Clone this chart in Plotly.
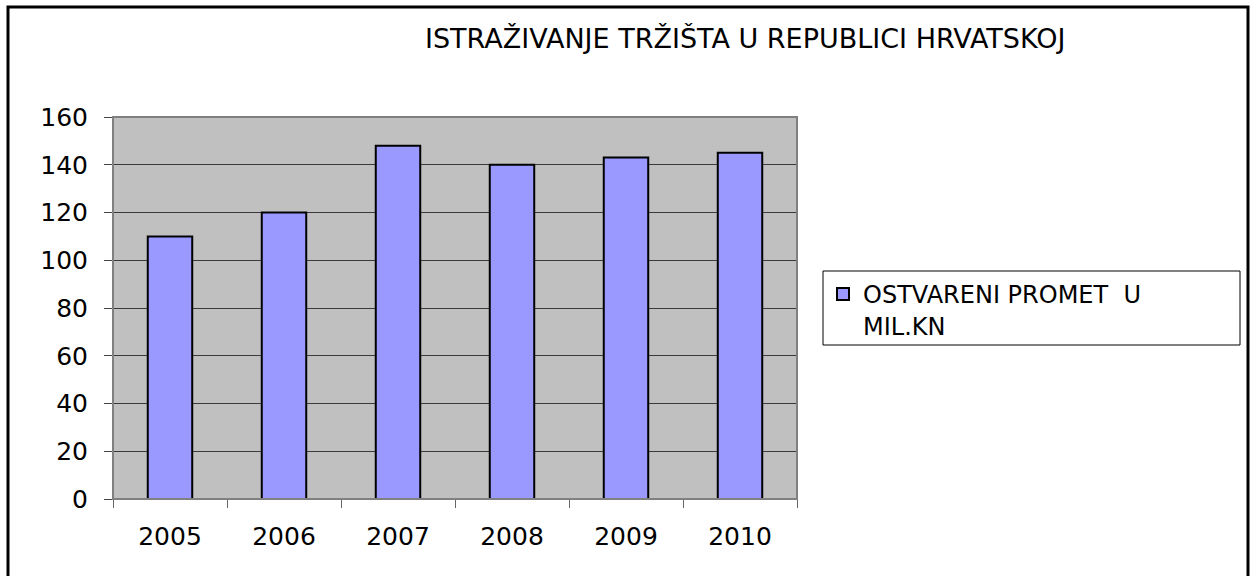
import plotly.graph_objects as go

years = ["2005", "2006", "2007", "2008", "2009", "2010"]
promet = [110, 120, 148, 140, 143, 145]
series_name = "OSTVARENI PROMET  U<br>MIL.KN"
title_text = "ISTRAŽIVANJE TRŽIŠTA U REPUBLICI HRVATSKOJ"
y_ticks = [0, 20, 40, 60, 80, 100, 120, 140, 160]

W, H = 1251, 576
L, R, T, B = 113, 797, 117, 499
pw, ph = R - L, B - T

def px(x):
    return (x - L) / pw

def py(y):
    return (B - y) / ph

FONT = "DejaVu Sans, Liberation Sans, Arial, sans-serif"
FS = 25

fig = go.Figure()
fig.add_trace(go.Bar(
    x=years, y=promet, name=series_name,
    marker=dict(color="#9999FF", line=dict(color="black", width=2)),
    width=0.39, showlegend=True,
))

fig.update_layout(
    width=W, height=H,
    margin=dict(l=L, r=W - R, t=T, b=H - B, pad=0),
    paper_bgcolor="white", plot_bgcolor="#C0C0C0",
    font=dict(family=FONT, size=FS, color="black"),
    showlegend=True,
    legend=dict(
        x=px(823), y=py(272), xanchor="left", yanchor="top",
        borderwidth=0, bgcolor="rgba(0,0,0,0)",
        font=dict(size=24, family=FONT), valign="top",
        tracegroupgap=0,
    ),
)
fig.update_xaxes(
    type="category", tickson="boundaries", ticks="outside", ticklen=8,
    tickcolor="#666666", showline=True, linecolor="black", linewidth=1,
    showgrid=False, ticklabelstandoff=15,
    tickfont=dict(size=FS, family=FONT),
)
fig.update_yaxes(
    range=[0, 160], tickvals=y_ticks, ticks="outside", ticklen=8,
    tickcolor="#444444", showline=True, linecolor="black", linewidth=1,
    showgrid=True, gridcolor="#3a3a3a", gridwidth=1, zeroline=False,
    ticklabelstandoff=11, tickfont=dict(size=FS, family=FONT),
)

fig.add_annotation(
    text=title_text, xref="paper", yref="paper",
    x=px(745), y=py(38), xanchor="center", yanchor="middle",
    showarrow=False, font=dict(size=27, family=FONT, color="black"),
)

# plot area border (gray top/right)
fig.add_shape(type="rect", xref="paper", yref="paper", x0=0, x1=1, y0=0, y1=1,
              line=dict(color="#808080", width=2), layer="above")
# legend box
fig.add_shape(type="rect", xref="paper", yref="paper",
              x0=px(823), x1=px(1240), y0=py(345), y1=py(271),
              line=dict(color="black", width=1), layer="above")
# outer chart border
fig.add_shape(type="rect", xref="paper", yref="paper",
              x0=px(8), x1=px(1248), y0=py(590), y1=py(7),
              line=dict(color="black", width=3), layer="above")

fig.write_html("out.html", config={"displayModeBar": False},
               post_script="document.body.style.margin='0px';")
